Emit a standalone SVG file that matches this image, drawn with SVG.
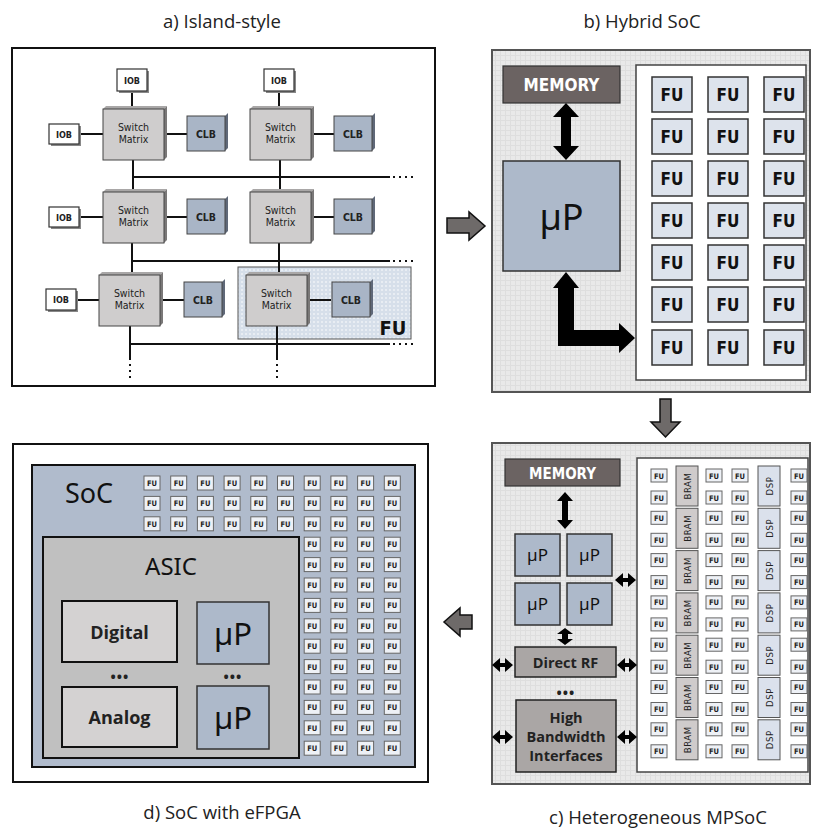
<svg xmlns="http://www.w3.org/2000/svg" width="818" height="832" viewBox="0 0 818 832">
  <defs>
    <!-- faint grid texture used on the SoC backgrounds -->
    <pattern id="grid" width="5" height="5" patternUnits="userSpaceOnUse">
      <rect width="5" height="5" fill="#e9e9e9"/>
      <path d="M0 0.5H5M0.5 0V5" stroke="#dedede" stroke-width="1"/>
    </pattern>
    <!-- dotted fill of the functional-unit outline -->
    <pattern id="dots" width="4" height="4" patternUnits="userSpaceOnUse">
      <rect width="4" height="4" fill="#d6dfea"/>
      <circle cx="2" cy="2" r="1" fill="#eef2f7"/>
    </pattern>
  </defs>
  <style>
    .title { font-family: "Open Sans", "Noto Sans", sans-serif; font-size: 18.5px; fill: #222; text-anchor: middle; }
    .panel { fill: #ffffff; stroke: #111; stroke-width: 2; }
    .soc { fill: url(#grid); stroke: #555; stroke-width: 2; }
    .fabric { fill: #ffffff; stroke: #444; stroke-width: 1.5; }
    .wire { stroke: #111; stroke-width: 2; fill: none; }
    .dotwire { stroke: #111; stroke-width: 2; fill: none; stroke-dasharray: 2 4; }
    .iob { fill: #ffffff; stroke: #333; stroke-width: 1.2; }
    .iobside { fill: #888; }
    .smface { fill: #cfcdcd; stroke: #444; stroke-width: 1; }
    .smside { fill: #7a7878; }
    .smtop { fill: #a9a7a7; }
    .clbface { fill: #a9b5c6; stroke: #444; stroke-width: 1; }
    .clbside { fill: #5f6878; }
    .small { font-family: "DejaVu Sans Condensed", "Liberation Sans", sans-serif; font-size: 10.5px; fill: #222; text-anchor: middle; }
    .smallb { font-family: "DejaVu Sans Condensed", "Liberation Sans", sans-serif; font-size: 10.5px; font-weight: bold; fill: #222; text-anchor: middle; }
    .iobt { font-family: "DejaVu Sans Condensed", "Liberation Sans", sans-serif; font-size: 9px; font-weight: bold; fill: #222; text-anchor: middle; }
    .mem { fill: #6b6362; stroke: #333; stroke-width: 1.2; }
    .memtxt { font-family: "DejaVu Sans Condensed", "Liberation Sans", sans-serif; font-weight: bold; fill: #ffffff; text-anchor: middle; }
    .cpu { fill: #adb9ca; stroke: #333; stroke-width: 1.5; }
    .cputxt { font-family: "Noto Sans", "Open Sans", sans-serif; fill: #111; text-anchor: middle; }
    .fu { fill: #dde3ec; stroke: #333; stroke-width: 1.5; }
    .futxt { font-family: "DejaVu Sans Condensed", "Liberation Sans", sans-serif; font-weight: bold; fill: #111; text-anchor: middle; }
    .fus { fill: #eef1f6; stroke: #666; stroke-width: 1; }
    .fustxt { font-family: "DejaVu Sans Condensed", "Liberation Sans", sans-serif; font-size: 7.5px; font-weight: bold; fill: #222; text-anchor: middle; }
    .bram { fill: #cfcbcb; stroke: #555; stroke-width: 1; }
    .dsp { fill: #dbe1ec; stroke: #555; stroke-width: 1; }
    .vtxt { font-family: "DejaVu Sans Condensed", "Liberation Sans", sans-serif; font-size: 9.5px; fill: #222; text-anchor: middle; letter-spacing: 0.6px; }
    .io { fill: #aaa6a5; stroke: #222; stroke-width: 1.5; }
    .iotxt { font-family: "Open Sans", "Noto Sans", sans-serif; font-weight: bold; fill: #222; text-anchor: middle; }
    .bigarrow { fill: #6e6a69; stroke: #111; stroke-width: 1.5; stroke-linejoin: miter; }
    .blk { fill: #000; }
    .dots { font-family: "Open Sans", sans-serif; font-weight: bold; font-size: 14px; fill: #222; text-anchor: middle; letter-spacing: 1px; }
  </style>

  <!-- captions -->
  <text class="title" x="222" y="28">a) Island-style</text>
  <text class="title" x="642" y="28">b) Hybrid SoC</text>
  <text class="title" x="222" y="819">d) SoC with eFPGA</text>
  <text class="title" x="658" y="824">c) Heterogeneous MPSoC</text>

  <!-- ============ a) island-style fabric ============ -->
  <g id="panel-a">
    <rect class="panel" x="12" y="48" width="423" height="338"/>
    <rect id="fu-outline" x="238" y="267" width="173" height="72" fill="url(#dots)" stroke="#555" stroke-width="1"/>
    <text x="393" y="335" font-family="DejaVu Sans Condensed, Liberation Sans, sans-serif" font-size="20" font-weight="bold" fill="#111" text-anchor="middle">FU</text>
  </g>

  <!-- routing wires of the island fabric -->
  <g id="a-wires">
    <!-- horizontal channels -->
    <path class="wire" d="M132 177H390M132 261H390M130 344H390"/>
    <path class="dotwire" d="M393 177H413M393 261H413M393 344H413"/>
    <!-- vertical channels -->
    <path class="wire" d="M132 92V109M133 160V192M132 243V274M130 326V360"/>
    <path class="wire" d="M279 92V109M280 160V192M279 243V274M277 326V360"/>
    <path class="dotwire" d="M130 364V382M277 364V382"/>
    <!-- IOB and CLB stubs -->
    <path class="wire" d="M79 134H103M164 134H187M311 134H334"/>
    <path class="wire" d="M79 217H103M164 217H187M311 217H334"/>
    <path class="wire" d="M76 300H99M160 300H184M307 300H331"/>
  </g>

  <g id="iob-1"><rect class="iobside" x="119" y="71" width="30" height="22"/><rect class="iob" x="117" y="69" width="30" height="22"/><text class="iobt" x="132" y="83.5">IOB</text></g>
  <g id="iob-2"><rect class="iobside" x="266" y="71" width="30" height="22"/><rect class="iob" x="264" y="69" width="30" height="22"/><text class="iobt" x="279" y="83.5">IOB</text></g>
  <g id="iob-3"><rect class="iobside" x="51" y="126" width="30" height="20"/><rect class="iob" x="49" y="124" width="30" height="20"/><text class="iobt" x="64" y="137.5">IOB</text></g>
  <g id="iob-4"><rect class="iobside" x="51" y="209" width="30" height="20"/><rect class="iob" x="49" y="207" width="30" height="20"/><text class="iobt" x="64" y="220.5">IOB</text></g>
  <g id="iob-5"><rect class="iobside" x="48" y="291" width="30" height="21"/><rect class="iob" x="46" y="289" width="30" height="21"/><text class="iobt" x="61" y="303">IOB</text></g>

  <!-- switch matrices: front face plus top and right bevel -->
  <g id="sm-1">
    <polygon class="smtop" points="103,109 106,106 167,106 164,109"/>
    <polygon class="smside" points="164,109 167,106 167,157 164,160"/>
    <rect class="smface" x="103" y="109" width="61" height="51"/>
    <text class="small" x="133.5" y="131">Switch</text><text class="small" x="133.5" y="143">Matrix</text>
  </g>
  <g id="sm-2">
    <polygon class="smtop" points="250,109 253,106 314,106 311,109"/>
    <polygon class="smside" points="311,109 314,106 314,157 311,160"/>
    <rect class="smface" x="250" y="109" width="61" height="51"/>
    <text class="small" x="280.5" y="131">Switch</text><text class="small" x="280.5" y="143">Matrix</text>
  </g>
  <g id="sm-3">
    <polygon class="smtop" points="103,192 106,189 167,189 164,192"/>
    <polygon class="smside" points="164,192 167,189 167,240 164,243"/>
    <rect class="smface" x="103" y="192" width="61" height="51"/>
    <text class="small" x="133.5" y="214">Switch</text><text class="small" x="133.5" y="226">Matrix</text>
  </g>
  <g id="sm-4">
    <polygon class="smtop" points="250,192 253,189 314,189 311,192"/>
    <polygon class="smside" points="311,192 314,189 314,240 311,243"/>
    <rect class="smface" x="250" y="192" width="61" height="51"/>
    <text class="small" x="280.5" y="214">Switch</text><text class="small" x="280.5" y="226">Matrix</text>
  </g>
  <g id="sm-5">
    <polygon class="smtop" points="99,275 102,272 163,272 160,275"/>
    <polygon class="smside" points="160,275 163,272 163,323 160,326"/>
    <rect class="smface" x="99" y="275" width="61" height="51"/>
    <text class="small" x="129.5" y="297">Switch</text><text class="small" x="129.5" y="309">Matrix</text>
  </g>
  <g id="sm-6">
    <polygon class="smtop" points="246,275 249,272 310,272 307,275"/>
    <polygon class="smside" points="307,275 310,272 310,323 307,326"/>
    <rect class="smface" x="246" y="275" width="61" height="51"/>
    <text class="small" x="276.5" y="297">Switch</text><text class="small" x="276.5" y="309">Matrix</text>
  </g>

  <!-- configurable logic blocks -->
  <g id="clb-1"><polygon class="clbside" points="225,116 228,113 228,148 225,151"/><rect class="clbface" x="187" y="116" width="38" height="35"/><text class="smallb" x="206" y="137.5">CLB</text></g>
  <g id="clb-2"><polygon class="clbside" points="372,116 375,113 375,148 372,151"/><rect class="clbface" x="334" y="116" width="38" height="35"/><text class="smallb" x="353" y="137.5">CLB</text></g>
  <g id="clb-3"><polygon class="clbside" points="225,199 228,196 228,231 225,234"/><rect class="clbface" x="187" y="199" width="38" height="35"/><text class="smallb" x="206" y="220.5">CLB</text></g>
  <g id="clb-4"><polygon class="clbside" points="372,199 375,196 375,231 372,234"/><rect class="clbface" x="334" y="199" width="38" height="35"/><text class="smallb" x="353" y="220.5">CLB</text></g>
  <g id="clb-5"><polygon class="clbside" points="222,282 225,279 225,314 222,317"/><rect class="clbface" x="184" y="282" width="38" height="35"/><text class="smallb" x="203" y="303.5">CLB</text></g>
  <g id="clb-6"><polygon class="clbside" points="370,282 373,279 373,314 370,317"/><rect class="clbface" x="332" y="282" width="38" height="35"/><text class="smallb" x="351" y="303.5">CLB</text></g>

  <!-- ============ b) hybrid SoC ============ -->
  <g id="panel-b">
    <rect class="soc" x="492" y="50" width="318" height="342"/>
    <rect class="fabric" x="636" y="65" width="170" height="315"/>
  </g>
  <g id="b-memory"><rect class="mem" x="503" y="66" width="117" height="37"/><text class="memtxt" x="561.5" y="91" font-size="17">MEMORY</text></g>
  <g id="b-cpu"><rect class="cpu" x="503" y="161" width="117" height="110"/><text class="cputxt" x="561.5" y="230" font-size="36">µP</text></g>
  <g id="b-fabric">
    <g id="b-fu-r1"><rect class="fu" x="652" y="77" width="40" height="35"/><text class="futxt" x="672" y="101" font-size="17">FU</text><rect class="fu" x="708" y="77" width="40" height="35"/><text class="futxt" x="728" y="101" font-size="17">FU</text><rect class="fu" x="764" y="77" width="40" height="35"/><text class="futxt" x="784" y="101" font-size="17">FU</text></g>
    <g id="b-fu-r2"><rect class="fu" x="652" y="119" width="40" height="35"/><text class="futxt" x="672" y="143" font-size="17">FU</text><rect class="fu" x="708" y="119" width="40" height="35"/><text class="futxt" x="728" y="143" font-size="17">FU</text><rect class="fu" x="764" y="119" width="40" height="35"/><text class="futxt" x="784" y="143" font-size="17">FU</text></g>
    <g id="b-fu-r3"><rect class="fu" x="652" y="161" width="40" height="35"/><text class="futxt" x="672" y="185" font-size="17">FU</text><rect class="fu" x="708" y="161" width="40" height="35"/><text class="futxt" x="728" y="185" font-size="17">FU</text><rect class="fu" x="764" y="161" width="40" height="35"/><text class="futxt" x="784" y="185" font-size="17">FU</text></g>
    <g id="b-fu-r4"><rect class="fu" x="652" y="203" width="40" height="35"/><text class="futxt" x="672" y="227" font-size="17">FU</text><rect class="fu" x="708" y="203" width="40" height="35"/><text class="futxt" x="728" y="227" font-size="17">FU</text><rect class="fu" x="764" y="203" width="40" height="35"/><text class="futxt" x="784" y="227" font-size="17">FU</text></g>
    <g id="b-fu-r5"><rect class="fu" x="652" y="245" width="40" height="35"/><text class="futxt" x="672" y="269" font-size="17">FU</text><rect class="fu" x="708" y="245" width="40" height="35"/><text class="futxt" x="728" y="269" font-size="17">FU</text><rect class="fu" x="764" y="245" width="40" height="35"/><text class="futxt" x="784" y="269" font-size="17">FU</text></g>
    <g id="b-fu-r6"><rect class="fu" x="652" y="287" width="40" height="35"/><text class="futxt" x="672" y="311" font-size="17">FU</text><rect class="fu" x="708" y="287" width="40" height="35"/><text class="futxt" x="728" y="311" font-size="17">FU</text><rect class="fu" x="764" y="287" width="40" height="35"/><text class="futxt" x="784" y="311" font-size="17">FU</text></g>
    <g id="b-fu-r7"><rect class="fu" x="652" y="330" width="40" height="35"/><text class="futxt" x="672" y="354" font-size="17">FU</text><rect class="fu" x="708" y="330" width="40" height="35"/><text class="futxt" x="728" y="354" font-size="17">FU</text><rect class="fu" x="764" y="330" width="40" height="35"/><text class="futxt" x="784" y="354" font-size="17">FU</text></g>
  </g>

  <!-- ============ c) heterogeneous MPSoC ============ -->
  <g id="panel-c">
    <rect class="soc" x="492" y="443" width="318" height="341"/>
    <rect class="fabric" x="637" y="458" width="171" height="314"/>
  </g>
  <g id="c-memory"><rect class="mem" x="505" y="459" width="115" height="27"/><text class="memtxt" x="562.5" y="478.5" font-size="15">MEMORY</text></g>
  <g id="c-cpu-1"><rect class="cpu" x="515" y="534" width="45" height="42"/><text class="cputxt" x="537.5" y="561" font-size="17">µP</text></g>
  <g id="c-cpu-2"><rect class="cpu" x="567" y="534" width="45" height="42"/><text class="cputxt" x="589.5" y="561" font-size="17">µP</text></g>
  <g id="c-cpu-3"><rect class="cpu" x="515" y="583" width="45" height="42"/><text class="cputxt" x="537.5" y="610" font-size="17">µP</text></g>
  <g id="c-cpu-4"><rect class="cpu" x="567" y="583" width="45" height="42"/><text class="cputxt" x="589.5" y="610" font-size="17">µP</text></g>
  <g id="c-direct-rf"><rect class="io" x="515" y="647" width="101" height="30"/><text class="iotxt" x="565.5" y="667.5" font-size="14.5">Direct RF</text></g>
  <text class="dots" x="566" y="698">•••</text>
  <g id="c-hbi"><rect class="io" x="516" y="700" width="100" height="72"/>
    <text class="iotxt" x="566" y="723" font-size="14.5">High</text>
    <text class="iotxt" x="566" y="742" font-size="14.5">Bandwidth</text>
    <text class="iotxt" x="566" y="761" font-size="14.5">Interfaces</text>
  </g>

  <!-- c) fabric columns: FU pairs, BRAM and DSP blocks -->
  <g id="c-fabric">
    <g id="c-grp-1" transform="translate(0,466)">
      <rect class="fus" x="651" y="3" width="16" height="13"/><text class="fustxt" x="659" y="12.5">FU</text><rect class="fus" x="651" y="25" width="16" height="13"/><text class="fustxt" x="659" y="34.5">FU</text>
      <rect class="bram" x="676" y="0" width="22" height="40"/><text class="vtxt" transform="translate(690.5,20) rotate(-90)">BRAM</text>
      <rect class="fus" x="706" y="3" width="16" height="13"/><text class="fustxt" x="714" y="12.5">FU</text><rect class="fus" x="706" y="25" width="16" height="13"/><text class="fustxt" x="714" y="34.5">FU</text>
      <rect class="fus" x="732" y="3" width="16" height="13"/><text class="fustxt" x="740" y="12.5">FU</text><rect class="fus" x="732" y="25" width="16" height="13"/><text class="fustxt" x="740" y="34.5">FU</text>
      <rect class="dsp" x="758" y="0" width="22" height="40"/><text class="vtxt" transform="translate(772.5,20) rotate(-90)">DSP</text>
      <rect class="fus" x="791" y="3" width="16" height="13"/><text class="fustxt" x="799" y="12.5">FU</text><rect class="fus" x="791" y="25" width="16" height="13"/><text class="fustxt" x="799" y="34.5">FU</text>
    </g>
    <g id="c-grp-2" transform="translate(0,508.3)">
      <rect class="fus" x="651" y="3" width="16" height="13"/><text class="fustxt" x="659" y="12.5">FU</text><rect class="fus" x="651" y="25" width="16" height="13"/><text class="fustxt" x="659" y="34.5">FU</text>
      <rect class="bram" x="676" y="0" width="22" height="40"/><text class="vtxt" transform="translate(690.5,20) rotate(-90)">BRAM</text>
      <rect class="fus" x="706" y="3" width="16" height="13"/><text class="fustxt" x="714" y="12.5">FU</text><rect class="fus" x="706" y="25" width="16" height="13"/><text class="fustxt" x="714" y="34.5">FU</text>
      <rect class="fus" x="732" y="3" width="16" height="13"/><text class="fustxt" x="740" y="12.5">FU</text><rect class="fus" x="732" y="25" width="16" height="13"/><text class="fustxt" x="740" y="34.5">FU</text>
      <rect class="dsp" x="758" y="0" width="22" height="40"/><text class="vtxt" transform="translate(772.5,20) rotate(-90)">DSP</text>
      <rect class="fus" x="791" y="3" width="16" height="13"/><text class="fustxt" x="799" y="12.5">FU</text><rect class="fus" x="791" y="25" width="16" height="13"/><text class="fustxt" x="799" y="34.5">FU</text>
    </g>
    <g id="c-grp-3" transform="translate(0,550.6)">
      <rect class="fus" x="651" y="3" width="16" height="13"/><text class="fustxt" x="659" y="12.5">FU</text><rect class="fus" x="651" y="25" width="16" height="13"/><text class="fustxt" x="659" y="34.5">FU</text>
      <rect class="bram" x="676" y="0" width="22" height="40"/><text class="vtxt" transform="translate(690.5,20) rotate(-90)">BRAM</text>
      <rect class="fus" x="706" y="3" width="16" height="13"/><text class="fustxt" x="714" y="12.5">FU</text><rect class="fus" x="706" y="25" width="16" height="13"/><text class="fustxt" x="714" y="34.5">FU</text>
      <rect class="fus" x="732" y="3" width="16" height="13"/><text class="fustxt" x="740" y="12.5">FU</text><rect class="fus" x="732" y="25" width="16" height="13"/><text class="fustxt" x="740" y="34.5">FU</text>
      <rect class="dsp" x="758" y="0" width="22" height="40"/><text class="vtxt" transform="translate(772.5,20) rotate(-90)">DSP</text>
      <rect class="fus" x="791" y="3" width="16" height="13"/><text class="fustxt" x="799" y="12.5">FU</text><rect class="fus" x="791" y="25" width="16" height="13"/><text class="fustxt" x="799" y="34.5">FU</text>
    </g>
    <g id="c-grp-4" transform="translate(0,592.9)">
      <rect class="fus" x="651" y="3" width="16" height="13"/><text class="fustxt" x="659" y="12.5">FU</text><rect class="fus" x="651" y="25" width="16" height="13"/><text class="fustxt" x="659" y="34.5">FU</text>
      <rect class="bram" x="676" y="0" width="22" height="40"/><text class="vtxt" transform="translate(690.5,20) rotate(-90)">BRAM</text>
      <rect class="fus" x="706" y="3" width="16" height="13"/><text class="fustxt" x="714" y="12.5">FU</text><rect class="fus" x="706" y="25" width="16" height="13"/><text class="fustxt" x="714" y="34.5">FU</text>
      <rect class="fus" x="732" y="3" width="16" height="13"/><text class="fustxt" x="740" y="12.5">FU</text><rect class="fus" x="732" y="25" width="16" height="13"/><text class="fustxt" x="740" y="34.5">FU</text>
      <rect class="dsp" x="758" y="0" width="22" height="40"/><text class="vtxt" transform="translate(772.5,20) rotate(-90)">DSP</text>
      <rect class="fus" x="791" y="3" width="16" height="13"/><text class="fustxt" x="799" y="12.5">FU</text><rect class="fus" x="791" y="25" width="16" height="13"/><text class="fustxt" x="799" y="34.5">FU</text>
    </g>
    <g id="c-grp-5" transform="translate(0,635.2)">
      <rect class="fus" x="651" y="3" width="16" height="13"/><text class="fustxt" x="659" y="12.5">FU</text><rect class="fus" x="651" y="25" width="16" height="13"/><text class="fustxt" x="659" y="34.5">FU</text>
      <rect class="bram" x="676" y="0" width="22" height="40"/><text class="vtxt" transform="translate(690.5,20) rotate(-90)">BRAM</text>
      <rect class="fus" x="706" y="3" width="16" height="13"/><text class="fustxt" x="714" y="12.5">FU</text><rect class="fus" x="706" y="25" width="16" height="13"/><text class="fustxt" x="714" y="34.5">FU</text>
      <rect class="fus" x="732" y="3" width="16" height="13"/><text class="fustxt" x="740" y="12.5">FU</text><rect class="fus" x="732" y="25" width="16" height="13"/><text class="fustxt" x="740" y="34.5">FU</text>
      <rect class="dsp" x="758" y="0" width="22" height="40"/><text class="vtxt" transform="translate(772.5,20) rotate(-90)">DSP</text>
      <rect class="fus" x="791" y="3" width="16" height="13"/><text class="fustxt" x="799" y="12.5">FU</text><rect class="fus" x="791" y="25" width="16" height="13"/><text class="fustxt" x="799" y="34.5">FU</text>
    </g>
    <g id="c-grp-6" transform="translate(0,677.5)">
      <rect class="fus" x="651" y="3" width="16" height="13"/><text class="fustxt" x="659" y="12.5">FU</text><rect class="fus" x="651" y="25" width="16" height="13"/><text class="fustxt" x="659" y="34.5">FU</text>
      <rect class="bram" x="676" y="0" width="22" height="40"/><text class="vtxt" transform="translate(690.5,20) rotate(-90)">BRAM</text>
      <rect class="fus" x="706" y="3" width="16" height="13"/><text class="fustxt" x="714" y="12.5">FU</text><rect class="fus" x="706" y="25" width="16" height="13"/><text class="fustxt" x="714" y="34.5">FU</text>
      <rect class="fus" x="732" y="3" width="16" height="13"/><text class="fustxt" x="740" y="12.5">FU</text><rect class="fus" x="732" y="25" width="16" height="13"/><text class="fustxt" x="740" y="34.5">FU</text>
      <rect class="dsp" x="758" y="0" width="22" height="40"/><text class="vtxt" transform="translate(772.5,20) rotate(-90)">DSP</text>
      <rect class="fus" x="791" y="3" width="16" height="13"/><text class="fustxt" x="799" y="12.5">FU</text><rect class="fus" x="791" y="25" width="16" height="13"/><text class="fustxt" x="799" y="34.5">FU</text>
    </g>
    <g id="c-grp-7" transform="translate(0,719.8)">
      <rect class="fus" x="651" y="3" width="16" height="13"/><text class="fustxt" x="659" y="12.5">FU</text><rect class="fus" x="651" y="25" width="16" height="13"/><text class="fustxt" x="659" y="34.5">FU</text>
      <rect class="bram" x="676" y="0" width="22" height="40"/><text class="vtxt" transform="translate(690.5,20) rotate(-90)">BRAM</text>
      <rect class="fus" x="706" y="3" width="16" height="13"/><text class="fustxt" x="714" y="12.5">FU</text><rect class="fus" x="706" y="25" width="16" height="13"/><text class="fustxt" x="714" y="34.5">FU</text>
      <rect class="fus" x="732" y="3" width="16" height="13"/><text class="fustxt" x="740" y="12.5">FU</text><rect class="fus" x="732" y="25" width="16" height="13"/><text class="fustxt" x="740" y="34.5">FU</text>
      <rect class="dsp" x="758" y="0" width="22" height="40"/><text class="vtxt" transform="translate(772.5,20) rotate(-90)">DSP</text>
      <rect class="fus" x="791" y="3" width="16" height="13"/><text class="fustxt" x="799" y="12.5">FU</text><rect class="fus" x="791" y="25" width="16" height="13"/><text class="fustxt" x="799" y="34.5">FU</text>
    </g>
  </g>

  <!-- ============ d) SoC with embedded FPGA ============ -->
  <g id="panel-d">
    <rect class="panel" x="13" y="444" width="415" height="338"/>
    <rect id="d-soc" x="32" y="465" width="383" height="302" fill="#b0bbcc" stroke="#111" stroke-width="2"/>
    <text class="cputxt" x="89" y="503" font-size="27" text-anchor="middle">SoC</text>
  </g>
  <g id="d-asic">
    <rect x="43" y="537" width="256" height="221" fill="#c0c0c0" stroke="#111" stroke-width="2"/>
    <text class="cputxt" x="171" y="575" font-size="24">ASIC</text>
  </g>
  <g id="d-digital"><rect x="62" y="601" width="115" height="61" fill="#d4d2d2" stroke="#111" stroke-width="2"/><text class="iotxt" x="119.5" y="639" font-size="18">Digital</text></g>
  <g id="d-analog"><rect x="62" y="687" width="115" height="60" fill="#d4d2d2" stroke="#111" stroke-width="2"/><text class="iotxt" x="119.5" y="724" font-size="18">Analog</text></g>
  <g id="d-cpu-1"><rect class="cpu" x="197" y="602" width="72" height="62" stroke="#222"/><text class="cputxt" x="233" y="645" font-size="31">µP</text></g>
  <g id="d-cpu-2"><rect class="cpu" x="197" y="686" width="72" height="63" stroke="#222"/><text class="cputxt" x="233" y="729" font-size="31">µP</text></g>
  <text class="dots" x="120" y="682">•••</text>
  <text class="dots" x="233" y="682">•••</text>

  <!-- eFPGA tiles: three full rows along the top, then four columns on the right -->
  <g id="d-fabric">
    <g id="d-row-1" transform="translate(0,476)">
      <rect class="fus" x="144" y="0" width="16" height="14"/><text class="fustxt" x="152" y="10">FU</text>
      <rect class="fus" x="170.7" y="0" width="16" height="14"/><text class="fustxt" x="178.7" y="10">FU</text>
      <rect class="fus" x="197.4" y="0" width="16" height="14"/><text class="fustxt" x="205.4" y="10">FU</text>
      <rect class="fus" x="224.1" y="0" width="16" height="14"/><text class="fustxt" x="232.1" y="10">FU</text>
      <rect class="fus" x="250.8" y="0" width="16" height="14"/><text class="fustxt" x="258.8" y="10">FU</text>
      <rect class="fus" x="277.5" y="0" width="16" height="14"/><text class="fustxt" x="285.5" y="10">FU</text>
      <rect class="fus" x="304.2" y="0" width="16" height="14"/><text class="fustxt" x="312.2" y="10">FU</text>
      <rect class="fus" x="330.9" y="0" width="16" height="14"/><text class="fustxt" x="338.9" y="10">FU</text>
      <rect class="fus" x="357.6" y="0" width="16" height="14"/><text class="fustxt" x="365.6" y="10">FU</text>
      <rect class="fus" x="384.3" y="0" width="16" height="14"/><text class="fustxt" x="392.3" y="10">FU</text>
    </g>
    <g id="d-row-2" transform="translate(0,496.4)">
      <rect class="fus" x="144" y="0" width="16" height="14"/><text class="fustxt" x="152" y="10">FU</text>
      <rect class="fus" x="170.7" y="0" width="16" height="14"/><text class="fustxt" x="178.7" y="10">FU</text>
      <rect class="fus" x="197.4" y="0" width="16" height="14"/><text class="fustxt" x="205.4" y="10">FU</text>
      <rect class="fus" x="224.1" y="0" width="16" height="14"/><text class="fustxt" x="232.1" y="10">FU</text>
      <rect class="fus" x="250.8" y="0" width="16" height="14"/><text class="fustxt" x="258.8" y="10">FU</text>
      <rect class="fus" x="277.5" y="0" width="16" height="14"/><text class="fustxt" x="285.5" y="10">FU</text>
      <rect class="fus" x="304.2" y="0" width="16" height="14"/><text class="fustxt" x="312.2" y="10">FU</text>
      <rect class="fus" x="330.9" y="0" width="16" height="14"/><text class="fustxt" x="338.9" y="10">FU</text>
      <rect class="fus" x="357.6" y="0" width="16" height="14"/><text class="fustxt" x="365.6" y="10">FU</text>
      <rect class="fus" x="384.3" y="0" width="16" height="14"/><text class="fustxt" x="392.3" y="10">FU</text>
    </g>
    <g id="d-row-3" transform="translate(0,516.8)">
      <rect class="fus" x="144" y="0" width="16" height="14"/><text class="fustxt" x="152" y="10">FU</text>
      <rect class="fus" x="170.7" y="0" width="16" height="14"/><text class="fustxt" x="178.7" y="10">FU</text>
      <rect class="fus" x="197.4" y="0" width="16" height="14"/><text class="fustxt" x="205.4" y="10">FU</text>
      <rect class="fus" x="224.1" y="0" width="16" height="14"/><text class="fustxt" x="232.1" y="10">FU</text>
      <rect class="fus" x="250.8" y="0" width="16" height="14"/><text class="fustxt" x="258.8" y="10">FU</text>
      <rect class="fus" x="277.5" y="0" width="16" height="14"/><text class="fustxt" x="285.5" y="10">FU</text>
      <rect class="fus" x="304.2" y="0" width="16" height="14"/><text class="fustxt" x="312.2" y="10">FU</text>
      <rect class="fus" x="330.9" y="0" width="16" height="14"/><text class="fustxt" x="338.9" y="10">FU</text>
      <rect class="fus" x="357.6" y="0" width="16" height="14"/><text class="fustxt" x="365.6" y="10">FU</text>
      <rect class="fus" x="384.3" y="0" width="16" height="14"/><text class="fustxt" x="392.3" y="10">FU</text>
    </g>
    <g id="d-row-4" transform="translate(0,537.2)"><rect class="fus" x="304.2" y="0" width="16" height="14"/><text class="fustxt" x="312.2" y="10">FU</text><rect class="fus" x="330.9" y="0" width="16" height="14"/><text class="fustxt" x="338.9" y="10">FU</text><rect class="fus" x="357.6" y="0" width="16" height="14"/><text class="fustxt" x="365.6" y="10">FU</text><rect class="fus" x="384.3" y="0" width="16" height="14"/><text class="fustxt" x="392.3" y="10">FU</text></g>
    <g id="d-row-5" transform="translate(0,557.6)"><rect class="fus" x="304.2" y="0" width="16" height="14"/><text class="fustxt" x="312.2" y="10">FU</text><rect class="fus" x="330.9" y="0" width="16" height="14"/><text class="fustxt" x="338.9" y="10">FU</text><rect class="fus" x="357.6" y="0" width="16" height="14"/><text class="fustxt" x="365.6" y="10">FU</text><rect class="fus" x="384.3" y="0" width="16" height="14"/><text class="fustxt" x="392.3" y="10">FU</text></g>
    <g id="d-row-6" transform="translate(0,578)"><rect class="fus" x="304.2" y="0" width="16" height="14"/><text class="fustxt" x="312.2" y="10">FU</text><rect class="fus" x="330.9" y="0" width="16" height="14"/><text class="fustxt" x="338.9" y="10">FU</text><rect class="fus" x="357.6" y="0" width="16" height="14"/><text class="fustxt" x="365.6" y="10">FU</text><rect class="fus" x="384.3" y="0" width="16" height="14"/><text class="fustxt" x="392.3" y="10">FU</text></g>
    <g id="d-row-7" transform="translate(0,598.4)"><rect class="fus" x="304.2" y="0" width="16" height="14"/><text class="fustxt" x="312.2" y="10">FU</text><rect class="fus" x="330.9" y="0" width="16" height="14"/><text class="fustxt" x="338.9" y="10">FU</text><rect class="fus" x="357.6" y="0" width="16" height="14"/><text class="fustxt" x="365.6" y="10">FU</text><rect class="fus" x="384.3" y="0" width="16" height="14"/><text class="fustxt" x="392.3" y="10">FU</text></g>
    <g id="d-row-8" transform="translate(0,618.8)"><rect class="fus" x="304.2" y="0" width="16" height="14"/><text class="fustxt" x="312.2" y="10">FU</text><rect class="fus" x="330.9" y="0" width="16" height="14"/><text class="fustxt" x="338.9" y="10">FU</text><rect class="fus" x="357.6" y="0" width="16" height="14"/><text class="fustxt" x="365.6" y="10">FU</text><rect class="fus" x="384.3" y="0" width="16" height="14"/><text class="fustxt" x="392.3" y="10">FU</text></g>
    <g id="d-row-9" transform="translate(0,639.2)"><rect class="fus" x="304.2" y="0" width="16" height="14"/><text class="fustxt" x="312.2" y="10">FU</text><rect class="fus" x="330.9" y="0" width="16" height="14"/><text class="fustxt" x="338.9" y="10">FU</text><rect class="fus" x="357.6" y="0" width="16" height="14"/><text class="fustxt" x="365.6" y="10">FU</text><rect class="fus" x="384.3" y="0" width="16" height="14"/><text class="fustxt" x="392.3" y="10">FU</text></g>
    <g id="d-row-10" transform="translate(0,659.6)"><rect class="fus" x="304.2" y="0" width="16" height="14"/><text class="fustxt" x="312.2" y="10">FU</text><rect class="fus" x="330.9" y="0" width="16" height="14"/><text class="fustxt" x="338.9" y="10">FU</text><rect class="fus" x="357.6" y="0" width="16" height="14"/><text class="fustxt" x="365.6" y="10">FU</text><rect class="fus" x="384.3" y="0" width="16" height="14"/><text class="fustxt" x="392.3" y="10">FU</text></g>
    <g id="d-row-11" transform="translate(0,680)"><rect class="fus" x="304.2" y="0" width="16" height="14"/><text class="fustxt" x="312.2" y="10">FU</text><rect class="fus" x="330.9" y="0" width="16" height="14"/><text class="fustxt" x="338.9" y="10">FU</text><rect class="fus" x="357.6" y="0" width="16" height="14"/><text class="fustxt" x="365.6" y="10">FU</text><rect class="fus" x="384.3" y="0" width="16" height="14"/><text class="fustxt" x="392.3" y="10">FU</text></g>
    <g id="d-row-12" transform="translate(0,700.4)"><rect class="fus" x="304.2" y="0" width="16" height="14"/><text class="fustxt" x="312.2" y="10">FU</text><rect class="fus" x="330.9" y="0" width="16" height="14"/><text class="fustxt" x="338.9" y="10">FU</text><rect class="fus" x="357.6" y="0" width="16" height="14"/><text class="fustxt" x="365.6" y="10">FU</text><rect class="fus" x="384.3" y="0" width="16" height="14"/><text class="fustxt" x="392.3" y="10">FU</text></g>
    <g id="d-row-13" transform="translate(0,720.8)"><rect class="fus" x="304.2" y="0" width="16" height="14"/><text class="fustxt" x="312.2" y="10">FU</text><rect class="fus" x="330.9" y="0" width="16" height="14"/><text class="fustxt" x="338.9" y="10">FU</text><rect class="fus" x="357.6" y="0" width="16" height="14"/><text class="fustxt" x="365.6" y="10">FU</text><rect class="fus" x="384.3" y="0" width="16" height="14"/><text class="fustxt" x="392.3" y="10">FU</text></g>
    <g id="d-row-14" transform="translate(0,741.2)"><rect class="fus" x="304.2" y="0" width="16" height="14"/><text class="fustxt" x="312.2" y="10">FU</text><rect class="fus" x="330.9" y="0" width="16" height="14"/><text class="fustxt" x="338.9" y="10">FU</text><rect class="fus" x="357.6" y="0" width="16" height="14"/><text class="fustxt" x="365.6" y="10">FU</text><rect class="fus" x="384.3" y="0" width="16" height="14"/><text class="fustxt" x="392.3" y="10">FU</text></g>
  </g>

  <!-- connectors: flow between panels and buses inside the SoCs -->
  <g id="connectors">
    <polygon class="bigarrow" points="447,218 469,218 469,212 485,226 469,240 469,233 447,233"/>
    <polygon class="bigarrow" points="660,399 671,399 671,422 680,422 665.5,437 651,422 660,422"/>
    <polygon class="bigarrow" points="472,615 460,615 460,608 444,622 460,636 460,629 472,629"/>

    <!-- b) memory bus and fabric bus -->
    <polygon class="blk" points="566,103 579,117 571,117 571,146 579,146 566,160 553,146 561,146 561,117 553,117"/>
    <polygon class="blk" points="566,272 579,288 574,288 574,330 619,330 619,323 635,338 619,353 619,346 558,346 558,288 553,288"/>

    <!-- c) vertical buses -->
    <polygon class="blk" points="565,492 573,501 568,501 568,520 573,520 565,529 557,520 562,520 562,501 557,501"/>
    <polygon class="blk" points="565,628 573,634 568,634 568,639 573,639 565,645 557,639 562,639 562,634 557,634"/>
    <!-- c) horizontal I/O links -->
    <polygon class="blk" points="492,665 500,658 500,663 505,663 505,658 513,665 505,672 505,667 500,667 500,672"/>
    <polygon class="blk" points="617,665 625,658 625,663 629,663 629,658 637,665 629,672 629,667 625,667 625,672"/>
    <polygon class="blk" points="492,737 500,730 500,735 505,735 505,730 513,737 505,744 505,739 500,739 500,744"/>
    <polygon class="blk" points="617,737 625,730 625,735 629,735 629,730 637,737 629,744 629,739 625,739 625,744"/>
    <polygon class="blk" points="615,580 623,573 623,578 628,578 628,573 636,580 628,587 628,582 623,582 623,587"/>
  </g>
</svg>
